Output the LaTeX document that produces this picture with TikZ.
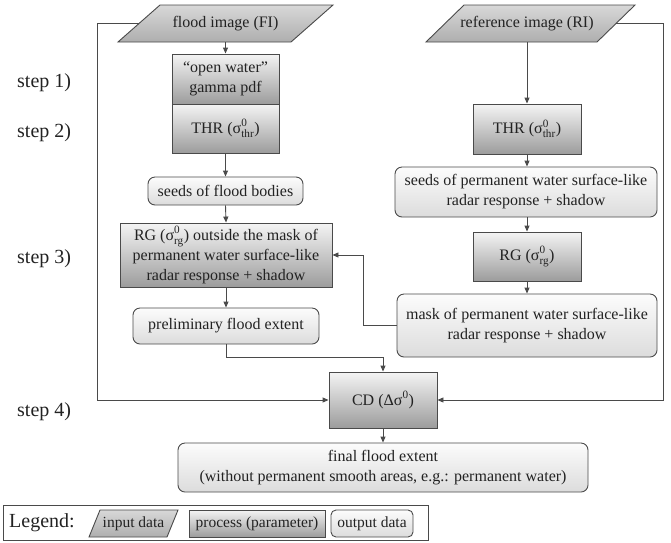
\documentclass[tikz,border=0pt]{standalone}
\usepackage{amsmath}
\usepackage{fontspec}
\setmainfont{Liberation Serif}
\usetikzlibrary{arrows.meta}
\definecolor{linec}{HTML}{4A4A4A}
\definecolor{textc}{HTML}{222222}
\definecolor{procTop}{HTML}{F4F4F4}
\definecolor{procBot}{HTML}{9C9C9C}
\definecolor{outTop}{HTML}{FCFCFC}
\definecolor{outBot}{HTML}{DCDCDC}
\definecolor{inTop}{HTML}{D8D8D8}
\definecolor{inBot}{HTML}{AEAEAE}
\newcommand{\boxfont}{\fontsize{16}{20}\selectfont}
\newcommand{\stepfont}{\fontsize{20}{24}\selectfont}
\newcommand{\legfont}{\fontsize{15.5}{18}\selectfont}
\tikzset{
  conn/.style={draw=linec, line width=0.9pt},
  arr/.style={conn, -{Triangle[length=6pt,width=5pt]}},
  procbox/.style={draw=linec, line width=0.9pt, top color=procTop, bottom color=procBot,
    inner sep=0pt, align=center, font=\boxfont, text=textc},
  outbox/.style={draw=linec, line width=0.9pt, top color=outTop, bottom color=outBot,
    rounded corners=7pt, inner sep=0pt, align=center, font=\boxfont, text=textc},
  inshape/.style={draw=linec, line width=0.9pt, top color=inTop, bottom color=inBot},
  intext/.style={inner sep=0pt, align=center, font=\boxfont, text=textc},
  steplabel/.style={anchor=west, inner sep=0pt, font=\stepfont, text=textc},
}
\begin{document}
\begin{tikzpicture}[x=1pt,y=-1pt]
\useasboundingbox (0,0) rectangle (671,542);

% input shapes
\path[inshape] (118,42) -- (160,5) -- (333,5) -- (291,42) -- cycle;
\node[intext, minimum width=150pt, minimum height=37pt] (FI) at (225.5,23.5) {flood image (FI)};
\coordinate (FIl) at (139,23.5);
\path[inshape] (426,42) -- (464,5) -- (635,5) -- (597,42) -- cycle;
\node[intext, minimum width=150pt, minimum height=37pt] (RI) at (527,23.5) {reference image (RI)};
\coordinate (RIr) at (616,23.5);

% left column
\node[procbox, minimum width=107pt, minimum height=50pt] (gamma) at (225.5,79) {“open water”\\gamma pdf};
\node[procbox, minimum width=107pt, minimum height=49pt] (thrA) at (225.5,128.5) {THR (σ$^{\text{0}}_{\text{thr}}$)};
\node[outbox, minimum width=155pt, minimum height=28pt] (seedsA) at (225.5,191) {seeds of flood bodies};
\node[procbox, minimum width=212pt, minimum height=64pt] (rgA) at (226,255) {RG (σ$^{\text{0}}_{\text{rg}}$) outside the mask of\\permanent water surface-like\\radar response + shadow};
\node[outbox, minimum width=186pt, minimum height=36pt] (prelim) at (226,326) {preliminary flood extent};

% right column
\node[procbox, minimum width=108pt, minimum height=50pt] (thrB) at (527,129) {THR (σ$^{\text{0}}_{\text{thr}}$)};
\node[outbox, minimum width=262pt, minimum height=50pt] (seedsB) at (526,192) {seeds of permanent water surface-like\\radar response + shadow};
\node[procbox, minimum width=108pt, minimum height=49pt] (rgB) at (527,256.5) {RG (σ$^{\text{0}}_{\text{rg}}$)};
\node[outbox, minimum width=260pt, minimum height=63pt] (mask) at (527,325.5) {mask of permanent water surface-like\\radar response + shadow};

% bottom
\node[procbox, minimum width=108pt, minimum height=56pt] (cd) at (383,400) {CD (Δσ$^{\text{0}}$)};
\node[outbox, minimum width=410pt, minimum height=49pt] (final) at (383,467.5) {final flood extent\\(without permanent smooth areas, e.g.: permanent water)};

% step labels
\node[steplabel] (s1) at (17,83) {step 1)};
\node[steplabel] (s2) at (17,132.5) {step 2)};
\node[steplabel] (s3) at (17,258.5) {step 3)};
\node[steplabel] (s4) at (17,411.5) {step 4)};

% connectors
\draw[arr] (FI.south) -- (gamma.north);
\draw[arr] (thrA.south) -- (seedsA.north);
\draw[arr] (seedsA.south) -- (rgA.north);
\draw[arr] (rgA.south) -- (prelim.north);
\draw[arr] (prelim.south) -- ++(0,13) -| (cd.north);
\draw[arr] (thrB.north |- RI.south) -- (thrB.north);
\draw[arr] (thrB.south) -- (seedsB.north -| thrB.south);
\draw[arr] (rgB.north |- seedsB.south) -- (rgB.north);
\draw[arr] (rgB.south) -- (mask.north -| rgB.south);
\draw[arr] (mask.west) -- ++(-33,0) |- (rgA.east);
\draw[arr] (FIl) -- (97,23.5) |- (cd.west);
\draw[arr] (RIr) -- (663,23.5) |- (cd.east);
\draw[arr] (cd.south) -- (final.north);

% legend
\node[draw=linec, line width=0.9pt, minimum width=425pt, minimum height=35pt, inner sep=0pt] (legend) at (215.5,522.5) {};
\node[anchor=west, inner sep=0pt, font=\stepfont, text=textc] (legtxt) at (9,523) {Legend:};
\path[inshape] (89,537) -- (100,510) -- (178,510) -- (167,537) -- cycle;
\node[intext, font=\legfont] (legin) at (133.5,523.5) {input data};
\node[procbox, font=\legfont, minimum width=136pt, minimum height=27pt] (legproc) at (257,523.5) {process (parameter)};
\node[outbox, font=\legfont, rounded corners=5pt, minimum width=82pt, minimum height=27pt] (legout) at (372,523.5) {output data};
\end{tikzpicture}
\end{document}
